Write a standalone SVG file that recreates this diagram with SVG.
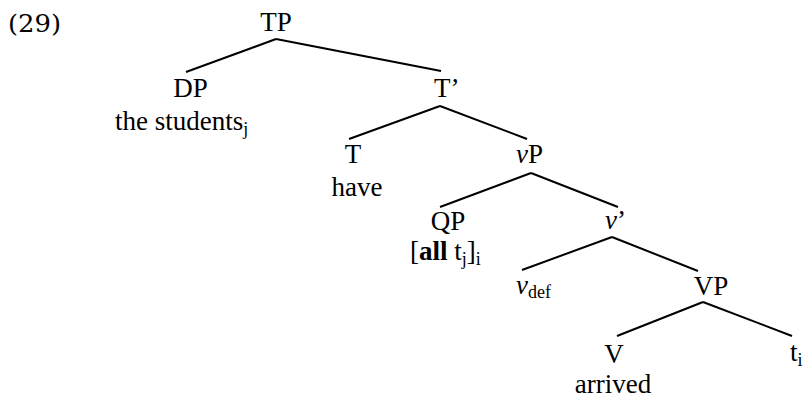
<svg xmlns="http://www.w3.org/2000/svg" width="804" height="399" viewBox="0 0 804 399">
<style>
text{font-family:"Liberation Serif","Times New Roman",serif;font-size:27px;fill:#000}
.c{text-anchor:middle}
.sub{font-size:18px}
.it{font-style:italic}
.ex{font-family:"DejaVu Serif",serif;font-size:24px}
#edges line{stroke:#000;stroke-width:2;stroke-linecap:butt}
</style>
<rect width="804" height="399" fill="#fff"/>
<text class="ex" x="8" y="32" textLength="53" lengthAdjust="spacingAndGlyphs">(29)</text>
<g id="edges">
<line x1="276" y1="39" x2="186" y2="72"/>
<line x1="276" y1="39" x2="441" y2="71"/>
<line x1="440" y1="106" x2="349" y2="139"/>
<line x1="440" y1="106" x2="527" y2="139"/>
<line x1="531" y1="173" x2="440" y2="207"/>
<line x1="531" y1="173" x2="618" y2="207"/>
<line x1="612" y1="237" x2="522" y2="270"/>
<line x1="612" y1="237" x2="698" y2="271"/>
<line x1="703" y1="302" x2="617" y2="336"/>
<line x1="703" y1="302" x2="792" y2="336"/>
</g>
<g id="TP"><text class="c" x="276" y="31">TP</text></g>
<g id="DP"><text class="c" x="190.5" y="97">DP</text>
<text x="115" y="130">the students<tspan class="sub" dy="5">j</tspan></text></g>
<g id="Tbar"><text x="434" y="97">T’</text></g>
<g id="T"><text class="c" x="353" y="163">T</text><text class="c" x="357" y="196">have</text></g>
<g id="vP"><text x="516" y="163"><tspan class="it">v</tspan>P</text></g>
<g id="QP"><text class="c" x="448" y="230">QP</text>
<text x="410" y="260">[<tspan font-weight="bold">all</tspan> t<tspan class="sub" dy="5">j</tspan><tspan dy="-5">]</tspan><tspan class="sub" dy="5">i</tspan></text></g>
<g id="vbar"><text x="605" y="229"><tspan class="it">v</tspan>’</text></g>
<g id="vdef"><text x="516" y="294"><tspan class="it">v</tspan><tspan class="sub" dy="4">def</tspan></text></g>
<g id="VP"><text class="c" x="711" y="295">VP</text></g>
<g id="V"><text class="c" x="614" y="363">V</text><text class="c" x="613" y="393">arrived</text></g>
<g id="ti"><text x="790" y="361">t<tspan class="sub" dy="5">i</tspan></text></g>
</svg>
